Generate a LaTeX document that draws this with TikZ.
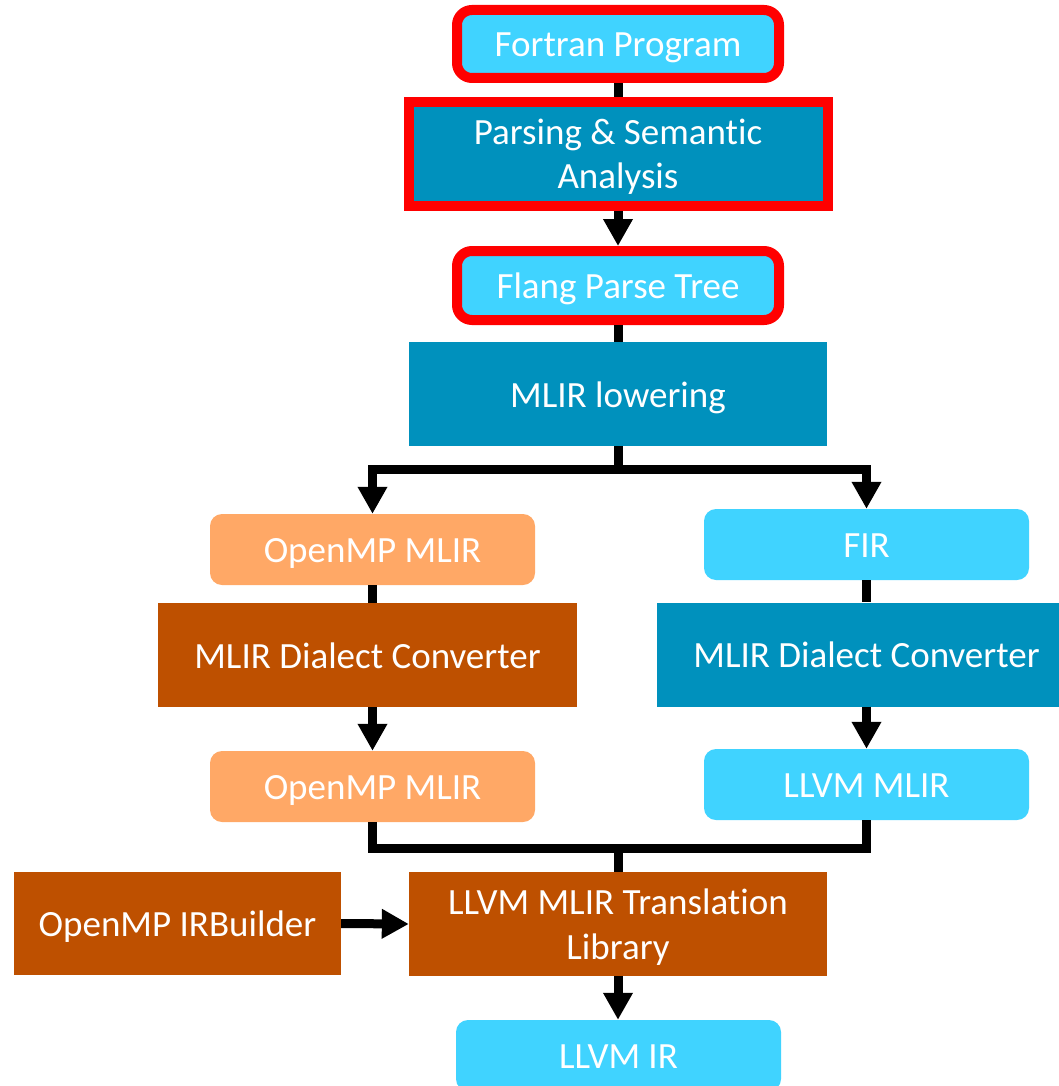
\documentclass[tikz,border=0pt]{standalone}
\usepackage{fontspec}
\setmainfont{Carlito}[Ligatures=NoCommon]
\usetikzlibrary{arrows.meta}
\definecolor{cyanL}{HTML}{40D3FF}
\definecolor{blueD}{HTML}{0091BD}
\definecolor{orangeL}{HTML}{FFA866}
\definecolor{orangeD}{HTML}{BE5000}
\begin{document}
\begin{tikzpicture}[x=1pt,y=-1pt,
  box/.style={inner sep=0pt, text=white, align=center,
    font=\fontsize{37}{44.5}\selectfont, text height=26pt, text depth=0pt},
  twoline/.style={text height=, text depth=0pt},
  sq/.style={box, minimum width=419pt, minimum height=104pt},
  rnd/.style={box, rounded corners=12pt, minimum width=325pt, minimum height=71pt},
  redfr/.style={draw=red, line width=10pt},
  conn/.style={line width=9pt, draw=black},
  arr/.style={conn, -{Triangle[width=28pt,length=27pt]}}]
\useasboundingbox (0,0) rectangle (1058,1086);

\node[box, fill=cyanL, redfr, rounded corners=15pt, minimum width=322pt, minimum height=68pt] (fortran) at (618,44) {Fortran Program};
\node[sq, twoline, fill=blueD, redfr] (parse) at (618,154) {Parsing \& Semantic\\Analysis};
\node[box, fill=cyanL, redfr, rounded corners=15pt, minimum width=322pt, minimum height=69pt] (flang) at (618,285.5) {Flang Parse Tree};
\node[sq, fill=blueD, minimum width=418pt] (lower) at (618,394) {MLIR lowering};
\node[rnd, fill=orangeL] (omp1) at (372.5,549.5) {OpenMP MLIR};
\node[rnd, fill=cyanL] (fir) at (866.5,544.5) {FIR};
\node[sq, fill=orangeD] (dcl) at (367.5,655) {MLIR Dialect Converter};
\node[sq, fill=blueD] (dcr) at (866.5,654.5) {MLIR Dialect Converter};
\node[rnd, fill=orangeL] (omp2) at (372.5,786.5) {OpenMP MLIR};
\node[rnd, fill=cyanL] (llvmmlir) at (866.5,784.5) {LLVM MLIR};
\node[sq, fill=orangeD, minimum width=327pt, minimum height=103pt] (irb) at (177.5,923.5) {OpenMP IRBuilder};
\node[sq, twoline, fill=orangeD, minimum width=418pt] (trans) at (618,924) {LLVM MLIR Translation\\Library};
\node[rnd, fill=cyanL] (llvmir) at (618.5,1055.5) {LLVM IR};

\coordinate (j1) at (618,469);
\coordinate (j2) at (618,848);

\draw[conn] (fortran.south) -- (fortran.south |- parse.north);
\draw[arr] (parse.south) -- (flang.north);
\draw[conn] (flang.south) -- (lower.north);
\draw[conn] (lower.south) -- (j1);
\draw[arr] (j1) -| (omp1.north);
\draw[arr] (j1) -| (fir.north);
\draw[conn] (omp1.south) -- (omp1.south |- dcl.north);
\draw[arr] (dcl.south -| omp2.north) -- (omp2.north);
\draw[conn] (fir.south) -- (fir.south |- dcr.north);
\draw[arr] (dcr.south) -- (llvmmlir.north);
\draw[conn] (omp2.south) |- (j2) -| (llvmmlir.south);
\draw[conn] (j2) -- (trans.north);
\draw[arr] (irb.east) -- (trans.west);
\draw[arr] (trans.south) -- (llvmir.north -| trans.south);
\end{tikzpicture}
\end{document}
